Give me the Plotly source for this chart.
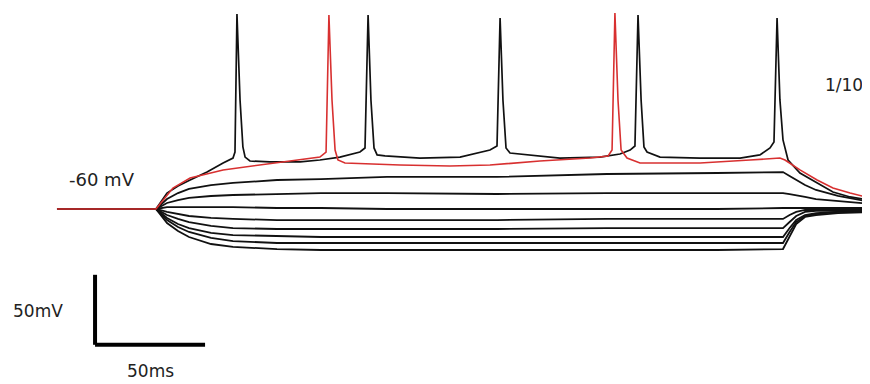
import plotly.graph_objects as go

# ---- data (time in ms, membrane potential in mV) ----
t_steps = [0, 45, 50, 55, 60, 70, 80, 100, 120, 150, 200, 250, 300, 330, 333, 336, 340, 345, 355, 370]

v_step3 = [-60, -60, -52.9, -48.6, -45.7, -42.9, -41.4, -39.3, -38.6, -37.1, -37.1, -35, -34.3, -33.6,
           -36.4, -39.3, -42.9, -46.4, -50.7, -55]
v_step4 = [-60, -60, -55.7, -53.6, -52.1, -50.7, -50, -49.3, -48.6, -48.6, -49.3, -48.6, -48.6, -48.6,
           -49.3, -50, -51.4, -52.9, -54.3, -56.4]
v_step5 = [-60, -60, -58.6, -58.6, -58.6, -58.6, -58.6, -59.3, -59.3, -60, -60, -60, -60, -59.3,
           -59.3, -59.3, -59.3, -59.3, -59.3, -59.3]
v_step6 = [-60, -60, -62.1, -63.6, -65, -66.4, -67.1, -67.9, -67.9, -67.9, -67.9, -67.1, -67.1, -67.1,
           -64.3, -62.1, -60.7, -60.7, -60.7, -60.7]
v_step7 = [-60, -60, -64.3, -67.1, -69.3, -72.1, -73.6, -74.3, -74.3, -74.3, -74.3, -73.6, -73.6, -73.6,
           -69.3, -65, -62.1, -61.4, -61.4, -60.7]
v_step8 = [-60, -60, -66.4, -70.7, -73.6, -77.1, -78.6, -79.3, -80, -80, -80, -80, -80, -80,
           -73.6, -67.9, -64.3, -62.9, -62.1, -61.4]
v_step9 = [-60, -60, -67.9, -72.9, -76.4, -80.7, -82.9, -84.3, -84.3, -84.3, -84.3, -84.3, -84.3, -84.3,
           -76.4, -69.3, -65, -63.6, -62.1, -61.4]
v_step10 = [-60, -60, -70, -75.7, -80, -85, -87.1, -88.6, -89.3, -89.3, -89.3, -89.3, -89.3, -88.6,
            -79.3, -70.7, -65.7, -64.3, -62.9, -62.1]

t_spiking = [0, 45, 50, 55, 60.5, 68.2, 75.5, 80, 80.9, 81.8, 83.2, 84.5, 85.5, 87.7, 96.8, 110.5,
             119.5, 128.6, 137.7, 140, 141.4, 142.7, 144.1, 145.5, 149.1, 165, 183.2, 196.8, 200,
             201.4, 202.7, 204.1, 205.9, 210.5, 228.6, 246.8, 255.9, 260.5, 262.7, 264.1, 265.5,
             266.8, 268.2, 274.1, 292.3, 310.5, 319.5, 324.1, 325.9, 327.3, 328.6, 330, 332.3,
             337.7, 345.5, 352.7, 360.5, 369.5]
v_spiking = [-60, -60, -48.6, -43.6, -39.3, -33.6, -27.1, -23.6, -19.3, 79.3, 17.9, -15.7, -22.9,
             -25.7, -26.4, -26.4, -25, -22.9, -19.3, -16.4, 78.6, 17.9, -16.4, -21.4, -22.1, -23.6,
             -22.9, -17.9, -15, 76.4, 17.9, -16.4, -20, -20.7, -23.6, -22.9, -20.7, -17.9, -15,
             78.6, 17.9, -15.7, -19.3, -22.9, -23.6, -23.6, -21.4, -16.4, -12.1, 76.4, 17.9, -10.7,
             -25, -34.3, -41.4, -47.9, -51.4, -53.6]

t_red = [0, 45, 52.7, 60.5, 75.5, 90.9, 105.9, 119.5, 122.3, 123.6, 125, 126.4, 127.7, 130.9, 155.9,
         178.6, 196.8, 219.5, 242.3, 250.5, 252.3, 253.6, 255, 256.4, 259.1, 265, 292.3, 315, 328.6,
         330.9, 337.7, 345.5, 352.7, 360.5, 369.5]
v_red = [-60, -60, -45, -37.9, -32.1, -28.6, -25.7, -22.9, -19.3, 78.6, 17.9, -17.9, -25, -27.1,
         -28.6, -29.3, -28.6, -25.7, -23.6, -22.1, -17.9, 80, 17.9, -17.9, -23.6, -27.1, -27.1, -25,
         -23.6, -25, -32.1, -39.3, -45, -48.6, -52.1]

scale_ms = 50
scale_mv = 50
labels = {"rest": "-60 mV", "sweep": "1/10", "mv": "50mV", "ms": "50ms"}

# ---- figure ----
BLACK = "#111111"
RED = "#d83030"
fig = go.Figure()

for v in [v_step10, v_step9, v_step8, v_step7, v_step6, v_step5, v_step4, v_step3]:
    fig.add_trace(go.Scatter(x=t_steps, y=v, mode="lines",
                             line=dict(color=BLACK, width=1.8), hoverinfo="skip"))

fig.add_trace(go.Scatter(x=t_spiking, y=v_spiking, mode="lines",
                         line=dict(color=BLACK, width=1.7), hoverinfo="skip"))
fig.add_trace(go.Scatter(x=t_red, y=v_red, mode="lines",
                         line=dict(color=RED, width=1.6), hoverinfo="skip"))

# scale bar
sx0, sy0 = 17.3, -157
fig.add_shape(type="line", x0=sx0, x1=sx0, y0=sy0, y1=sy0 + scale_mv,
              line=dict(color="black", width=4))
fig.add_shape(type="line", x0=sx0, x1=sx0 + scale_ms, y0=sy0, y1=sy0,
              line=dict(color="black", width=4))

font = dict(family="DejaVu Sans", size=17, color="#222222")
fig.add_annotation(x=20.5, y=-38.6, text=labels["rest"], showarrow=False,
                   font=dict(family="DejaVu Sans", size=18, color="#222222"))
fig.add_annotation(x=357.7, y=28.6, text=labels["sweep"], showarrow=False, font=font)
fig.add_annotation(x=-8.6, y=-132.9, text=labels["mv"], showarrow=False, font=font)
fig.add_annotation(x=42.3, y=-175.7, text=labels["ms"], showarrow=False, font=font)

# page body has an 8px margin, so the figure is 862x376 and ranges are set accordingly
fig.update_layout(
    width=862, height=376,
    margin=dict(l=0, r=0, t=0, b=0),
    paper_bgcolor="white", plot_bgcolor="white",
    showlegend=False,
    xaxis=dict(range=[-22.27, 369.545], visible=False, fixedrange=True),
    yaxis=dict(range=[-185, 83.571], visible=False, fixedrange=True),
)

fig.write_html("out.html")
